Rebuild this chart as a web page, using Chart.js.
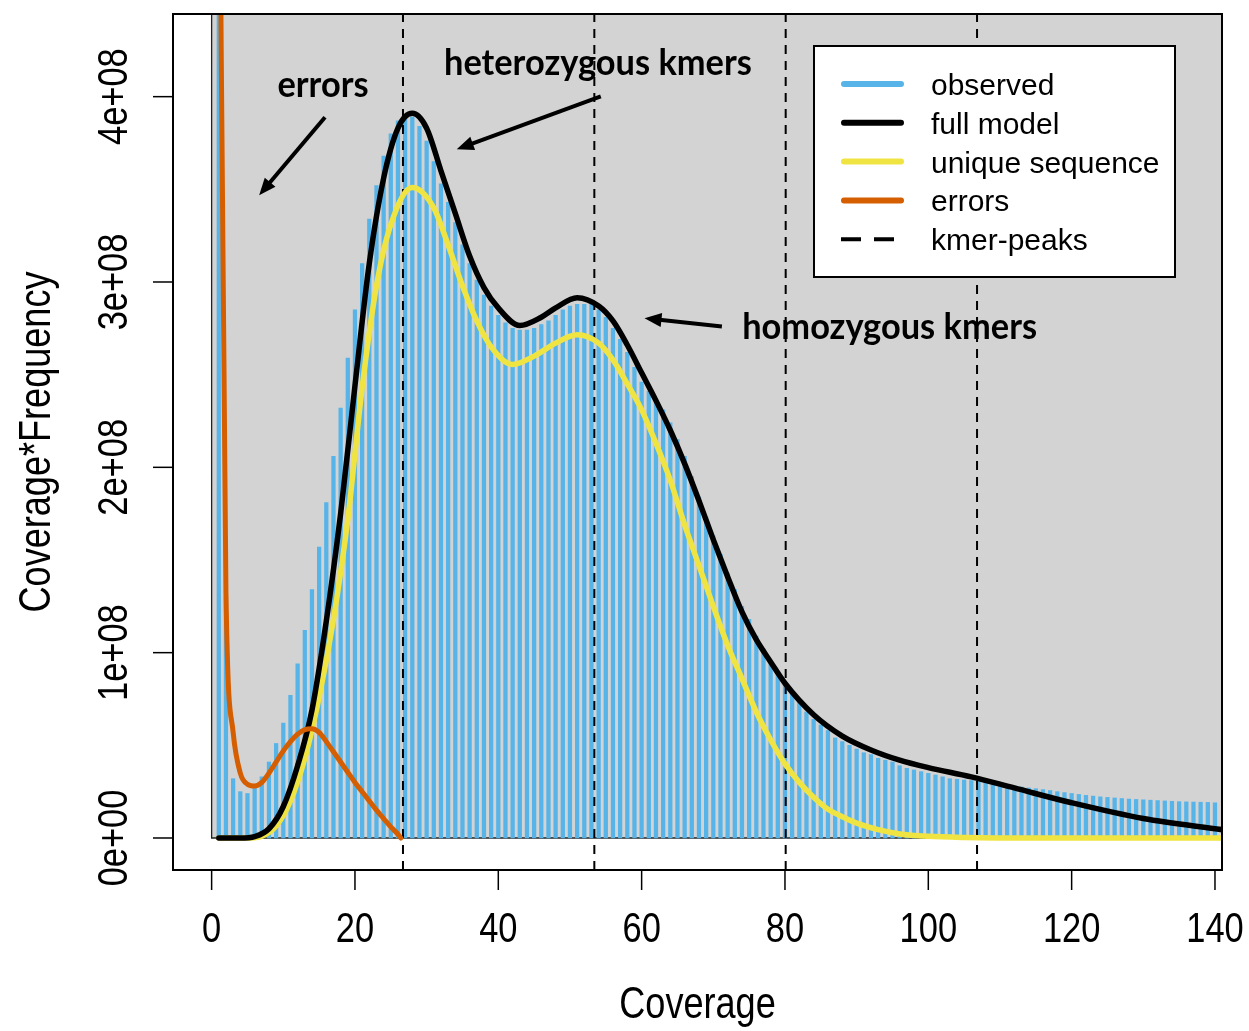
<!DOCTYPE html>
<html><head><meta charset="utf-8">
<script src="https://cdn.jsdelivr.net/npm/chart.js@4/dist/chart.umd.min.js"></script>
<style>html,body{margin:0;padding:0;background:#fff;}#wrap{width:1249px;height:1031px;position:relative;}</style>
</head><body><div id="wrap"><canvas id="c" width="1249" height="1031"></canvas></div>
<script>
// ---- data (values in units of 1e8) ----
const observed = [
 6.0, 1.30, 0.32, 0.25, 0.24, 0.27, 0.33, 0.41, 0.51, 0.62,
 0.77, 0.94, 1.12, 1.34, 1.57, 1.81, 2.06, 2.32, 2.59, 2.85,
 3.10, 3.34, 3.52, 3.68, 3.80, 3.87, 3.89, 3.89, 3.84, 3.76,
 3.65, 3.53, 3.43, 3.32, 3.20, 3.10, 3.01, 2.93, 2.87, 2.82,
 2.78, 2.75, 2.74, 2.74, 2.75, 2.77, 2.79, 2.82, 2.85, 2.87,
 2.88, 2.88, 2.88, 2.85, 2.81, 2.75, 2.69, 2.62, 2.54, 2.46,
 2.41, 2.37, 2.31, 2.24, 2.15, 2.06, 1.95, 1.84, 1.73, 1.63,
 1.53, 1.43, 1.34, 1.25, 1.18, 1.09, 1.02, 0.94, 0.89, 0.825,
 0.78, 0.73, 0.68, 0.64, 0.61, 0.58, 0.54, 0.52, 0.50, 0.48,
 0.46, 0.45, 0.43, 0.42, 0.41, 0.39, 0.376, 0.367, 0.358, 0.349,
 0.34, 0.33, 0.32, 0.317, 0.313, 0.31, 0.305, 0.30, 0.295, 0.29,
 0.285, 0.28, 0.275, 0.27, 0.266, 0.261, 0.256, 0.25, 0.245, 0.24,
 0.235, 0.23, 0.226, 0.222, 0.219, 0.216, 0.213, 0.21, 0.208, 0.206,
 0.204, 0.202, 0.20, 0.198, 0.196, 0.195, 0.194, 0.193, 0.192, 0.19
];
const coverage = observed.map((v, i) => i + 1);

const fullCov = [1, 4, 6, 8, 10, 12, 14, 16, 18, 20, 22, 24, 26, 28, 30, 32, 34, 36, 38, 40, 43, 46, 48, 51, 54, 56, 58, 60, 62, 64, 66, 68, 70, 72, 74, 76, 78, 80, 84, 88, 92, 96, 100, 106, 112, 120, 130, 141];
const fullVal = [0, 0, 0.008, 0.05, 0.17, 0.39, 0.69, 1.17, 1.75, 2.44, 3.10, 3.56, 3.83, 3.91, 3.83, 3.60, 3.37, 3.14, 2.97, 2.86, 2.765, 2.81, 2.86, 2.915, 2.87, 2.79, 2.66, 2.51, 2.36, 2.20, 2.02, 1.82, 1.61, 1.41, 1.22, 1.07, 0.95, 0.835, 0.665, 0.55, 0.475, 0.42, 0.38, 0.33, 0.27, 0.19, 0.105, 0.045];

const uniqCov = [1, 5, 7, 9, 11, 13, 15, 17, 19, 21, 23, 25, 28, 31, 33, 35, 37, 39, 42, 45, 48, 51, 54, 56, 58, 60, 62, 64, 66, 68, 70, 72, 74, 76, 78, 80, 82, 84, 86, 88, 90, 93, 96, 100, 105, 115, 141];
const uniqVal = [0, 0, 0.01, 0.065, 0.20, 0.43, 0.76, 1.18, 1.72, 2.43, 2.98, 3.31, 3.51, 3.40, 3.20, 2.98, 2.79, 2.65, 2.555, 2.60, 2.67, 2.715, 2.67, 2.58, 2.45, 2.31, 2.13, 1.93, 1.69, 1.47, 1.25, 1.04, 0.86, 0.68, 0.53, 0.40, 0.30, 0.22, 0.155, 0.115, 0.08, 0.045, 0.022, 0.009, 0.003, 0, 0];

const errCov = [1, 2, 3, 4, 5, 6, 7, 8, 9, 10, 11, 12, 13, 14, 15, 16, 17, 18, 19, 20, 21, 22, 23, 24, 25, 26, 26.4];
const errVal = [6.0, 1.32, 0.57, 0.35, 0.29, 0.28, 0.30, 0.35, 0.41, 0.47, 0.52, 0.56, 0.585, 0.59, 0.57, 0.52, 0.465, 0.41, 0.355, 0.30, 0.25, 0.20, 0.15, 0.105, 0.06, 0.02, 0];

const peakCov = [26.7, 53.4, 80.1, 106.8];
const xTicks = [0, 20, 40, 60, 80, 100, 120, 140];
const yTicks = [0, 1, 2, 3, 4];
const UNIT = 1e8;

// ---- layout constants ----
const X_MIN = -5.39, X_MAX = 140.98, Y_MIN = -0.1727, Y_MAX = 4.446;
const BLUE = '#56B4E9', YELLOW = '#F0E442', ORANGE = '#D55E00';

const pts = (xs, ys) => xs.map((x, i) => ({x: x, y: ys[i] === null ? null : ys[i] * UNIT}));

const annotations = [
  {text: 'errors', x: 15.54, base: 4.0},
  {text: 'heterozygous kmers', x: 53.9, base: 4.118},
  {text: 'homozygous kmers', x: 94.6, base: 2.69}
];
const annoWidths = [91, 307, 296];
const arrows = [
  {from: [15.82, 3.889], to: [6.63, 3.468]},
  {from: [54.3, 4.002], to: [34.2, 3.716]},
  {from: [71.2, 2.76], to: [60.4, 2.805]}
];

function rExp(v) {
  if (v === 0) return '0e+00';
  const e = Math.floor(Math.log10(Math.abs(v)) + 1e-9);
  const m = Math.round(v / Math.pow(10, e) * 100) / 100;
  return m + 'e+' + String(e).padStart(2, '0');
}

function txt(ctx, s, x, y, font, o) {
  o = o || {};
  ctx.save();
  ctx.translate(x, y);
  if (o.rot) ctx.rotate(o.rot);
  ctx.scale(o.sx || 1, 1);
  ctx.font = font;
  ctx.textAlign = o.align || 'center';
  ctx.textBaseline = o.base || 'alphabetic';
  ctx.fillStyle = o.color || '#000';
  ctx.fillText(s, 0, 0);
  ctx.restore();
}

function arrow(ctx, x1, y1, x2, y2) {
  const lw = 4, hl = 17, hw = 7;
  const a = Math.atan2(y2 - y1, x2 - x1);
  const bx = x2 - hl * Math.cos(a), by = y2 - hl * Math.sin(a);
  ctx.strokeStyle = '#000'; ctx.fillStyle = '#000'; ctx.lineWidth = lw; ctx.lineCap = 'butt';
  ctx.beginPath(); ctx.moveTo(x1, y1); ctx.lineTo(bx + 2 * Math.cos(a), by + 2 * Math.sin(a)); ctx.stroke();
  ctx.beginPath(); ctx.moveTo(x2, y2);
  ctx.lineTo(bx + hw * Math.sin(a), by - hw * Math.cos(a));
  ctx.lineTo(bx - hw * Math.sin(a), by + hw * Math.cos(a));
  ctx.closePath(); ctx.fill();
}

const AX_FONT = 'px "Liberation Sans", Arial, sans-serif';
const NARROW = 0.82;

const decor = {
  id: 'decor',
  beforeDatasetsDraw(chart) {
    const {ctx, chartArea: a, scales: {x, y}} = chart;
    ctx.save();
    ctx.beginPath(); ctx.rect(a.left, a.top, a.right - a.left, a.bottom - a.top); ctx.clip();
    const x0 = x.getPixelForValue(0), y0 = y.getPixelForValue(0);
    ctx.fillStyle = '#D3D3D3';
    ctx.fillRect(x0, a.top - 5, a.right + 5 - x0, y0 - a.top + 5);
    ctx.strokeStyle = '#222'; ctx.lineWidth = 1.3;
    ctx.beginPath(); ctx.moveTo(x0, a.top - 5); ctx.lineTo(x0, y0); ctx.lineTo(a.right + 5, y0); ctx.stroke();
    ctx.restore();
  },
  afterDraw(chart) {
    const {ctx, chartArea: a, scales: {x, y}} = chart;
    ctx.save();
    ctx.strokeStyle = '#000'; ctx.lineWidth = 2;
    ctx.strokeRect(a.left, a.top, a.right - a.left, a.bottom - a.top);
    ctx.lineWidth = 1.5;
    xTicks.forEach(t => {
      const px = x.getPixelForValue(t);
      ctx.beginPath(); ctx.moveTo(px, a.bottom); ctx.lineTo(px, a.bottom + 20); ctx.stroke();
      txt(ctx, String(t), px, a.bottom + 72, '42' + AX_FONT, {sx: NARROW});
    });
    yTicks.forEach(t => {
      const py = y.getPixelForValue(t * UNIT);
      ctx.beginPath(); ctx.moveTo(a.left, py); ctx.lineTo(a.left - 20, py); ctx.stroke();
      txt(ctx, rExp(t * UNIT), a.left - 46, py, '42' + AX_FONT, {sx: NARROW, rot: -Math.PI / 2});
    });
    txt(ctx, 'Coverage', (a.left + a.right) / 2, 1018, '44' + AX_FONT, {sx: NARROW});
    txt(ctx, 'Coverage*Frequency', 50, (a.top + a.bottom) / 2, '44' + AX_FONT, {sx: NARROW, rot: -Math.PI / 2});

    // legend
    const L = {left: 814, top: 46, w: 361, h: 231};
    ctx.fillStyle = '#fff'; ctx.fillRect(L.left, L.top, L.w, L.h);
    ctx.strokeStyle = '#000'; ctx.lineWidth = 2; ctx.strokeRect(L.left, L.top, L.w, L.h);
    const legendOrder = [0, 3, 2, 4, 1];
    legendOrder.forEach((di, i) => {
      const ds = chart.data.datasets[di];
      const ly = 84 + i * 38.8;
      ctx.save();
      ctx.strokeStyle = ds.legendColor || ds.borderColor;
      ctx.lineWidth = 6;
      if (ds.borderDash) { ctx.setLineDash([20, 13]); ctx.lineCap = 'butt'; ctx.lineWidth = 4;
        ctx.beginPath(); ctx.moveTo(841, ly); ctx.lineTo(894, ly); ctx.stroke(); }
      else { ctx.lineCap = 'round'; ctx.beginPath(); ctx.moveTo(844, ly); ctx.lineTo(901, ly); ctx.stroke(); }
      ctx.restore();
      txt(ctx, ds.label, 931, ly + 11, '30px "Liberation Sans", Arial, sans-serif', {align: 'left'});
    });

    // annotations
    ctx.font = 'bold 40px Lato, "Open Sans", sans-serif';
    let ratio = 0;
    annotations.forEach((an, i) => { ratio += annoWidths[i] / ctx.measureText(an.text).width; });
    const fs = 40 * ratio / annotations.length;
    const grow = 1.07;
    annotations.forEach(an => {
      txt(ctx, an.text, x.getPixelForValue(an.x), y.getPixelForValue(an.base * UNIT),
          'bold ' + (fs * grow).toFixed(1) + 'px Lato, "Open Sans", sans-serif', {sx: 1 / grow});
    });
    arrows.forEach(ar => {
      arrow(ctx, x.getPixelForValue(ar.from[0]), y.getPixelForValue(ar.from[1] * UNIT),
                 x.getPixelForValue(ar.to[0]), y.getPixelForValue(ar.to[1] * UNIT));
    });
    ctx.restore();
  }
};

const peakData = [];
peakCov.forEach(p => { peakData.push({x: p, y: Y_MIN * UNIT}, {x: p, y: Y_MAX * UNIT}, {x: p, y: null}); });

const lineCommon = {type: 'line', pointRadius: 0, fill: false, clip: 0, cubicInterpolationMode: 'monotone', borderCapStyle: 'round', borderJoinStyle: 'round'};

new Chart(document.getElementById('c'), {
  type: 'bar',
  data: {
    datasets: [
      {label: 'observed', type: 'bar', data: pts(coverage, observed), backgroundColor: BLUE, borderWidth: 0,
       barThickness: 3.6, order: 5, clip: 0, legendColor: BLUE},
      {label: 'kmer-peaks', type: 'line', data: peakData, borderColor: '#000', borderWidth: 2, borderDash: [9, 7],
       pointRadius: 0, spanGaps: false, order: 4, clip: 0, tension: 0},
      {label: 'unique sequence', ...lineCommon, data: pts(uniqCov, uniqVal), borderColor: YELLOW, borderWidth: 5.5, order: 3},
      {label: 'full model', ...lineCommon, data: pts(fullCov, fullVal), borderColor: '#000', borderWidth: 5.5, order: 2},
      {label: 'errors', ...lineCommon, data: pts(errCov, errVal), borderColor: ORANGE, borderWidth: 5, order: 1}
    ]
  },
  options: {
    responsive: false, animation: false, devicePixelRatio: 1,
    layout: {padding: {left: 173, top: 14, right: 27, bottom: 161}},
    plugins: {legend: {display: false}, tooltip: {enabled: false}},
    scales: {
      x: {type: 'linear', min: X_MIN, max: X_MAX, offset: false, display: false, grid: {display: false}},
      y: {type: 'linear', min: Y_MIN * UNIT, max: Y_MAX * UNIT, display: false, grid: {display: false}}
    }
  },
  plugins: [decor]
});
</script></body></html>
